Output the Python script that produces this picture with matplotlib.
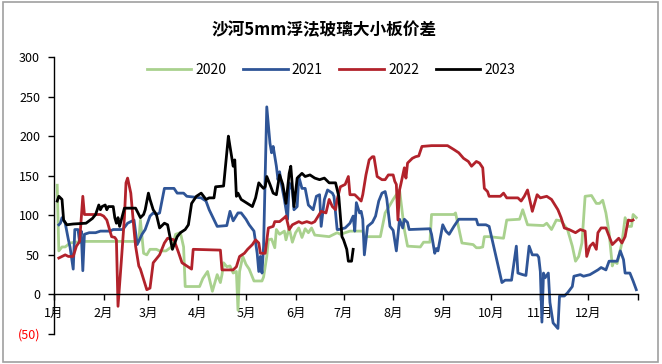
import matplotlib
matplotlib.use("Agg")
import matplotlib.pyplot as plt
from matplotlib.patches import Rectangle

plt.rcParams['font.family'] = ['Liberation Sans Narrow', 'Noto Sans CJK SC', 'DejaVu Sans']

# ---- data (day of year, spread) ----
d2020 = [2, 3, 5, 7, 10, 17, 53, 54, 56, 58, 60, 64, 66, 70, 74, 76, 79, 81, 82, 91, 93, 96, 99, 102, 104, 105,
         106, 108, 110, 112, 114, 115, 116, 118, 120, 122, 125, 130, 131, 133, 134, 136, 138, 139, 141, 144, 145,
         147, 149, 151, 153, 155, 157, 159, 161, 163, 172, 177, 179, 185, 193, 194, 204, 207, 210, 212, 216, 219,
         221, 229, 231, 235, 236, 250, 251, 255, 262, 264, 266, 268, 269, 272, 281, 283, 291, 293, 296, 306, 308,
         311, 314, 317, 321, 324, 326, 328, 330, 332, 336, 339, 341, 343, 345, 347, 349, 350, 352, 355, 357, 359,
         361, 362, 364]
v2020 = [138, 55, 60, 60, 65, 67, 67, 94, 52, 50, 57, 57, 55, 55, 61, 76, 78, 60, 10, 10, 20, 29, 4, 25, 15, 25,
         40, 35, 36, 27, 29, -20, 29, 48, 38, 32, 17, 17, 22, 48, 69, 70, 59, 82, 76, 80, 69,
         84, 66, 78, 84, 72, 83, 78, 84, 75, 73, 78, 76, 80, 80, 73, 73, 103, 113, 120, 132, 82,
         61, 60, 66, 66, 101, 101, 103, 65, 63, 59, 59, 60, 73, 73, 71, 94, 95, 107, 88, 87, 90,
         82, 94, 93, 82, 61, 42, 48, 65, 124, 125, 115, 115, 119, 103, 78, 36, 42, 39, 65, 97, 86,
         86, 101, 97]

d2021 = [3, 4, 5, 7, 9, 10, 12, 13, 15, 16, 17, 18, 19, 22, 26, 29, 35, 37, 43, 46, 50, 52, 55, 57, 60, 62, 64, 66,
         69, 75, 77, 81, 83, 92, 95, 97, 102, 108, 110, 112, 115, 117, 120, 122, 125, 127, 128, 129, 130, 131, 133,
         135, 136, 137, 139, 140, 141, 142, 144, 146, 147, 149, 150, 152, 153, 155, 157, 159, 162, 164, 166, 167,
         169, 171, 174, 175, 177, 178, 182, 185, 187, 188, 189, 191, 192, 193, 194, 196, 199, 201, 203, 205, 207,
         208, 210, 212, 214, 216, 218, 219, 221, 222, 235, 236, 238, 239, 240, 243, 245, 247, 250, 253, 264, 265,
         270, 272, 280, 282, 286, 289, 290, 293, 295, 297, 299, 302, 303, 304, 305, 306, 307, 309, 310, 312, 315,
         316, 319, 321, 324, 325, 329, 331, 335, 340, 342, 345, 347, 352, 354, 356, 357, 360, 362, 364]
v2021 = [88, 90, 97, 90, 69, 60, 32, 82, 82, 66, 80, 30, 76, 78, 78, 80, 80, 82, 82, 90, 94, 63, 76, 82, 99, 103, 101, 103,
         134, 134, 128, 128, 124, 122, 118, 107, 86, 87, 105, 93, 103, 103, 95, 88, 80, 52, 29, 48, 27, 61, 237,
         191, 179, 187, 162, 145, 155, 141, 120, 95, 141, 132, 107, 111, 149, 134, 134, 113, 107, 124, 126, 86,
         120, 132, 128, 124, 82, 82, 84, 90, 99, 80, 116, 103, 105, 95, 50, 86, 91, 99, 118, 128, 130,
         121, 86, 81, 55, 95, 84, 95, 91, 82, 83, 76, 52, 58, 55, 88, 80, 76, 86, 95, 95, 88,
         88, 86, 15, 18, 18, 61, 27, 25, 24, 61, 50, 50, 47, 29, -35, 27, 21, 27, -10, -36, -43,
         -2, -2, 2, 10, 23, 25, 23, 25, 31, 34, 31, 42, 42, 55, 44, 27, 27, 17, 6]

d2022 = [3, 5, 7, 9, 12, 14, 16, 18, 19, 22, 29, 31, 33, 36, 38, 39, 40, 42, 44, 45, 46, 48, 50, 51, 53, 54, 58, 60,
         62, 66, 69, 71, 75, 78, 80, 83, 86, 87, 104, 105, 112, 114, 116, 119, 121, 124, 126, 128, 129, 132, 134,
         137, 138, 141, 144, 145, 147, 149, 153, 155, 158, 161, 163, 167, 170, 172, 174, 176, 177, 179, 182, 184,
         185, 188, 191, 192, 193, 195, 197, 199, 200, 202, 205, 207, 209, 212, 213, 214, 215, 216, 217, 219, 220,
         221, 224, 226, 228, 230, 236, 246, 250, 253, 256, 259, 261, 264, 266, 268, 269, 271, 272, 279, 281, 283,
         290, 292, 294, 296, 299, 302, 304, 308, 311, 315, 317, 319, 322, 326, 329, 332, 333, 335, 337, 339, 340,
         342, 345, 349, 351, 353, 355, 357, 358, 359, 361, 362]
v2022 = [46, 48, 50, 48, 48, 61, 67, 124, 101, 101, 101, 99, 94, 73, 72, 69, -15, 40, 97, 141, 147, 128, 82, 61, 36, 32, 6, 8,
         40, 50, 65, 71, 69, 52, 40, 36, 32, 57, 56, 31, 31, 35, 48, 52, 57, 63, 69, 65, 52, 52, 84,
         86, 92, 92, 97, 99, 82, 88, 92, 90, 92, 90, 92, 105, 103, 120, 111, 107, 120, 136, 139, 149,
         126, 126, 120, 118, 126, 151, 170, 174, 174, 149, 145, 145, 151, 151, 143, 139, 94, 132, 141, 160, 147,
         166, 172, 174, 175, 187, 188, 188, 183, 179, 172, 168, 162, 168, 166, 160, 134, 130, 124, 124, 128, 122,
         122, 118, 124, 132, 105, 126, 122, 124, 120, 107, 97, 84, 82, 78, 82, 80, 48, 61, 65, 57, 78,
         84, 84, 63, 67, 71, 65, 73, 84, 94, 93, 94]

d2023 = [2, 3, 5, 6, 8, 12, 20, 24, 26, 28, 29, 30, 32, 33, 34, 37, 38, 39, 40, 41, 44, 51, 54, 56, 57, 59, 60, 62,
         64, 66, 69, 71, 74, 77, 79, 82, 84, 86, 89, 92, 95, 97, 100, 101, 106, 109, 110, 112, 113, 114, 115, 117,
         124, 126, 128, 130, 131, 132, 133, 135, 137, 139, 141, 143, 145, 147, 148, 150, 152, 155, 157, 160, 163,
         166, 169, 172, 176, 178, 179, 180, 181, 182, 183, 184, 186, 187]
v2023 = [118, 124, 120, 94, 88, 89, 90, 96, 101, 113, 107, 111, 113, 107, 111, 111, 97, 90, 97, 86, 109, 109, 97, 101, 107, 128, 120, 107,
         101, 84, 90, 88, 57, 73, 78, 82, 88, 115, 124, 128, 120, 122, 122, 136, 137, 200, 187, 162, 170, 124, 128, 120,
         111, 122, 141, 136, 134, 136, 149, 139, 128, 126, 151, 139, 115, 153, 162, 111, 147, 153, 149, 151, 147,
         145, 147, 141, 141, 124, 99, 73, 69, 63, 57, 42, 42, 57]

series = [("2020", d2020, v2020, "#A9D18E"),
          ("2021", d2021, v2021, "#2F5597"),
          ("2022", d2022, v2022, "#B2222B"),
          ("2023", d2023, v2023, "#000000")]

month_starts = [0, 31, 59, 90, 120, 151, 181, 212, 243, 273, 304, 334, 365]
month_labels = ["1月", "2月", "3月", "4月", "5月", "6月", "7月", "8月", "9月", "10月", "11月", "12月", ""]
yticks = [-50, 0, 50, 100, 150, 200, 250, 300]

fig = plt.figure(figsize=(6.62, 3.64), dpi=100)
ax = fig.add_axes([0.0816, 0.0824, 0.882, 0.761])

for name, d, v, c in series:
    ax.plot(d, v, color=c, lw=2.0, label=name, solid_joinstyle='round')

ax.set_xlim(0, 365)
ax.set_ylim(-50, 300)
ax.spines['top'].set_visible(False)
ax.spines['right'].set_visible(False)
ax.spines['bottom'].set_position(('data', 0))
ax.spines['left'].set_linewidth(1.0)
ax.spines['bottom'].set_linewidth(1.0)

ax.set_xticks(month_starts)
ax.set_xticklabels(month_labels, fontsize=9)
ax.tick_params(axis='x', direction='out', length=4, width=1, pad=5)
ax.set_yticks(yticks)
ylabels = ["(50)" if t < 0 else str(t) for t in yticks]
ax.set_yticklabels(ylabels, fontsize=9)
ax.tick_params(axis='y', direction='out', length=4, width=1, pad=6)
for lab in ax.get_yticklabels():
    if lab.get_text().startswith("("):
        lab.set_color("red")

fig.text(0.49, 0.916, "沙河5mm浮法玻璃大小板价差", ha='center', va='center',
         fontsize=12, fontweight='bold', family=['Noto Sans CJK SC', 'DejaVu Sans'])

fig.legend(loc='center', bbox_to_anchor=(0.5, 0.808), ncol=4, frameon=False,
           fontsize=10, handlelength=3.2, columnspacing=1.2, handletextpad=0.3)

fig.patches.append(Rectangle((0.004, 0.006), 0.99, 0.988, transform=fig.transFigure,
                             fill=False, edgecolor='#A0A0A0', lw=1.2))

fig.savefig("out.png", dpi=100)
